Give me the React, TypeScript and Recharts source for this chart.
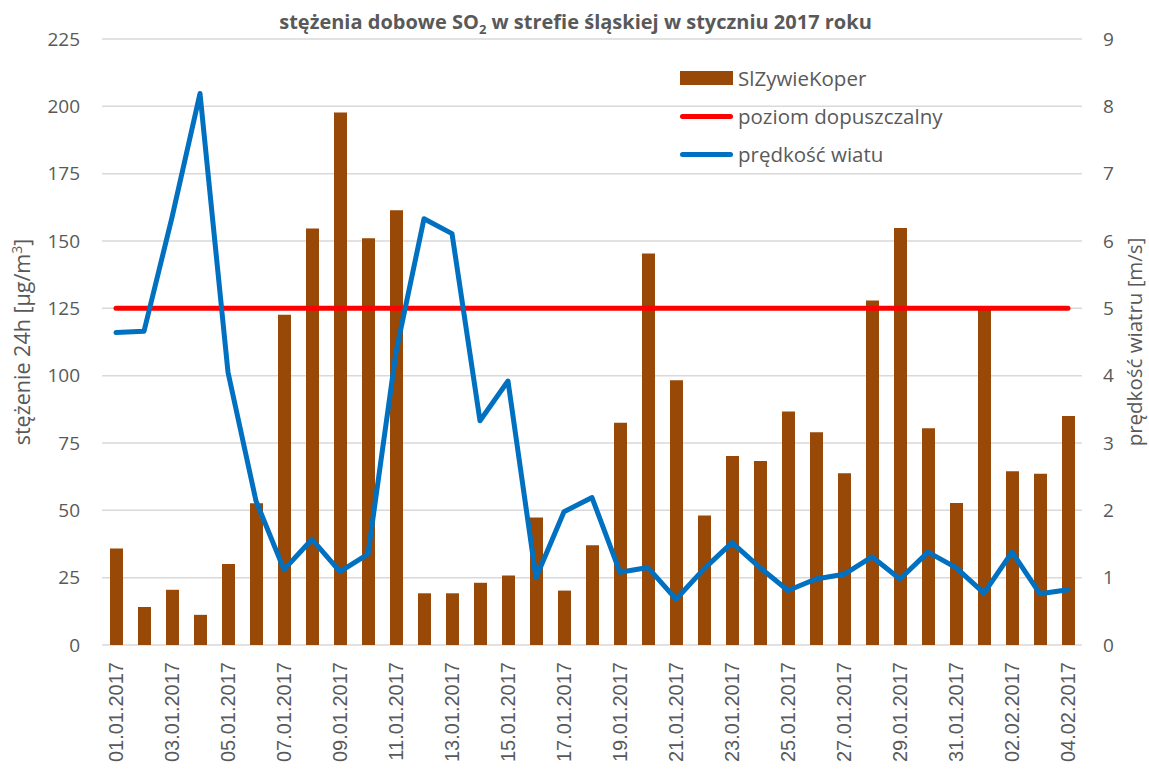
import React from "react";
import { ComposedChart, Bar, Line, XAxis, YAxis, CartesianGrid } from "recharts";

const dates = [
  "01.01.2017", "02.01.2017", "03.01.2017", "04.01.2017", "05.01.2017", "06.01.2017", "07.01.2017",
  "08.01.2017", "09.01.2017", "10.01.2017", "11.01.2017", "12.01.2017", "13.01.2017", "14.01.2017",
  "15.01.2017", "16.01.2017", "17.01.2017", "18.01.2017", "19.01.2017", "20.01.2017", "21.01.2017",
  "22.01.2017", "23.01.2017", "24.01.2017", "25.01.2017", "26.01.2017", "27.01.2017", "28.01.2017",
  "29.01.2017", "30.01.2017", "31.01.2017", "01.02.2017", "02.02.2017", "03.02.2017", "04.02.2017",
];

const so2 = [
  35.8, 14.1, 20.5, 11.2, 30.1, 52.6, 122.6, 154.6, 197.7, 151, 161.4, 19.2, 19.2, 23.1, 25.8, 47.3, 20.2,
  37, 82.5, 145.4, 98.3, 48.1, 70.2, 68.3, 86.7, 79, 63.8, 127.9, 154.8, 80.5, 52.7, 124.5, 64.5, 63.6, 85,
];

const wind = [
  4.64, 4.66, 6.35, 8.19, 4.05, 2.14, 1.12, 1.57, 1.09, 1.35, 4.35, 6.33, 6.11, 3.33, 3.92, 1.0, 1.98,
  2.19, 1.08, 1.15, 0.68, 1.13, 1.52, 1.15, 0.81, 0.98, 1.05, 1.31, 0.98, 1.38, 1.15, 0.77, 1.38, 0.76, 0.82,
];

const limitValue = 125;

const leftTicks = [0, 25, 50, 75, 100, 125, 150, 175, 200, 225];
const rightTicks = [0, 1, 2, 3, 4, 5, 6, 7, 8, 9];

const seriesNames = ["SlZywieKoper", "poziom dopuszczalny", "prędkość wiatu"];
const seriesColors = ["#984807", "#FF0000", "#0070C0"];

const data = dates.map((d, i) => ({
  date: d,
  so2: so2[i],
  limit: limitValue,
  wind: wind[i],
}));

const TEXT = "#595959";
const FONT = "'Open Sans', Lato, sans-serif";

const XTick = (props: any) => {
  const { x, y, payload } = props;
  return (
    <text
      x={0}
      y={0}
      transform={`translate(${x},${y}) rotate(-90)`}
      textAnchor="end"
      dy="0.36em"
      fill={TEXT}
      fontSize={20}
      fontFamily="'Liberation Sans', Arial, sans-serif"
    >
      {payload.value}
    </text>
  );
};

const LeftLabel = () => (
  <text
    transform="translate(30,342) rotate(-90)"
    textAnchor="middle"
    fill={TEXT}
    fontSize={21.5}
    fontFamily={FONT}
  >
    <tspan>stężenie 24h [μg/m</tspan>
    <tspan dy={-8} fontSize={14}>3</tspan>
    <tspan dy={8}>]</tspan>
  </text>
);

const RightLabel = () => (
  <text
    transform="translate(1142,342) rotate(-90)"
    textAnchor="middle"
    fill={TEXT}
    fontSize={20.5}
    fontFamily={FONT}
  >
    prędkość wiatru [m/s]
  </text>
);

const LegendBox = () => (
  <div
    style={{
      position: "absolute",
      left: 680,
      top: 59,
      fontFamily: FONT,
      fontSize: 20.5,
      color: TEXT,
      zIndex: 2,
    }}
  >
    {seriesNames.map((name, i) => (
      <div key={name} style={{ display: "flex", alignItems: "center", height: 38 }}>
        {i === 0 ? (
          <div style={{ width: 53, height: 14, background: seriesColors[i] }} />
        ) : (
          <div style={{ width: 53, height: 5, borderRadius: 3, background: seriesColors[i] }} />
        )}
        <span style={{ marginLeft: 5, lineHeight: "38px" }}>{name}</span>
      </div>
    ))}
  </div>
);

export default function App() {
  return (
    <div style={{ position: "absolute", left: 0, top: 0, width: 1149, height: 771, background: "#fff" }}>
      <div
        style={{
          position: "absolute",
          left: 0,
          width: 1149,
          top: 8,
          height: 28,
          lineHeight: "28px",
          textAlign: "center",
          fontFamily: FONT,
          fontWeight: 700,
          fontSize: 20,
          color: TEXT,
          zIndex: 2,
        }}
      >
        <span style={{ position: "relative", left: 1 }}>
          stężenia dobowe SO<sub style={{ fontSize: 13, lineHeight: 0 }}>2</sub> w strefie śląskiej w styczniu 2017 roku
        </span>
      </div>
      <LegendBox />
      <ComposedChart
        width={1149}
        height={771}
        data={data}
        margin={{ top: 39, right: 0, bottom: 0, left: 0 }}
      >
        <CartesianGrid vertical={false} stroke="#d9d9d9" strokeWidth={1.5} yAxisId="left" />
        <XAxis
          dataKey="date"
          height={126}
          interval={1}
          tickLine={false}
          axisLine={false}
          tick={<XTick />}
          tickMargin={11}
        />
        <YAxis
          yAxisId="left"
          width={102}
          domain={[0, 225]}
          ticks={leftTicks}
          interval={0}
          tickLine={false}
          axisLine={false}
          tickMargin={16}
          tick={{ fill: TEXT, fontSize: 19, fontFamily: FONT }}
          label={<LeftLabel />}
        />
        <YAxis
          yAxisId="right"
          orientation="right"
          width={67}
          domain={[0, 9]}
          ticks={rightTicks}
          interval={0}
          tickLine={false}
          axisLine={false}
          tickMargin={15}
          tick={{ fill: TEXT, fontSize: 19, fontFamily: FONT }}
          label={<RightLabel />}
        />
        <Bar
          yAxisId="left"
          dataKey="so2"
          name={seriesNames[0]}
          fill={seriesColors[0]}
          barSize={13}
          isAnimationActive={false}
        />
        <Line
          yAxisId="left"
          dataKey="limit"
          name={seriesNames[1]}
          stroke={seriesColors[1]}
          strokeWidth={5}
          strokeLinecap="round"
          dot={false}
          activeDot={false}
          isAnimationActive={false}
        />
        <Line
          yAxisId="right"
          dataKey="wind"
          name={seriesNames[2]}
          stroke={seriesColors[2]}
          strokeWidth={5}
          strokeLinecap="round"
          strokeLinejoin="round"
          dot={false}
          activeDot={false}
          isAnimationActive={false}
        />
      </ComposedChart>
    </div>
  );
}
